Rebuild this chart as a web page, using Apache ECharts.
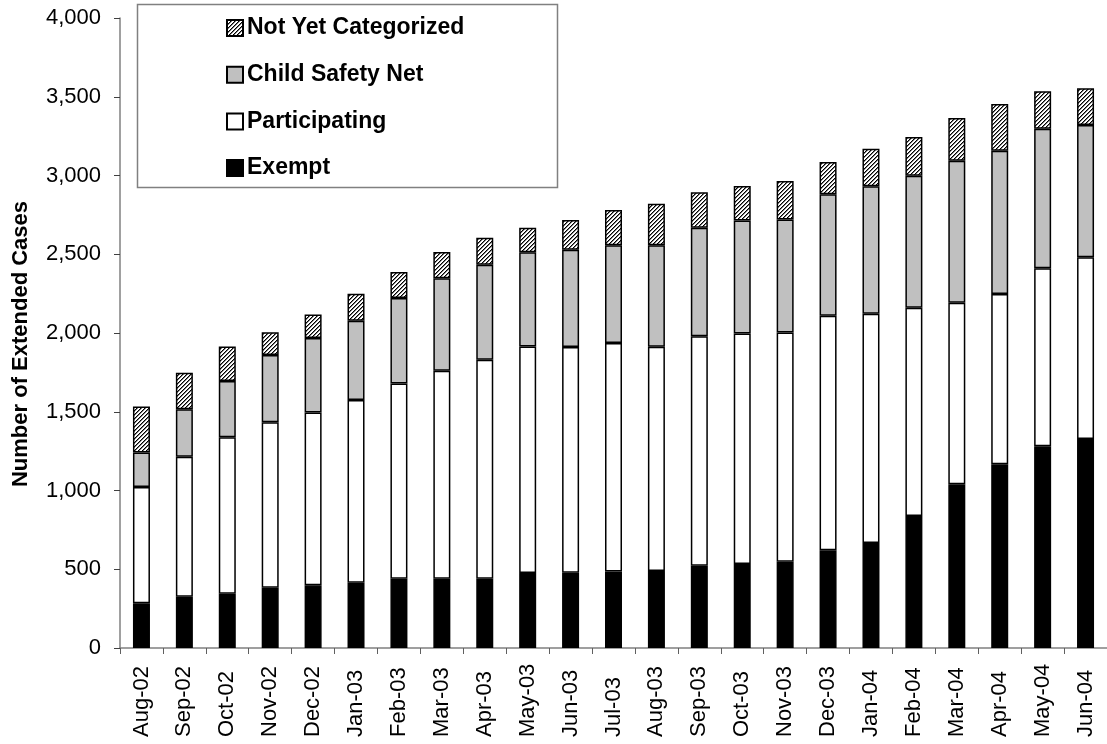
<!DOCTYPE html>
<html>
<head>
<meta charset="utf-8">
<script src="https://cdn.jsdelivr.net/npm/echarts@6/dist/echarts.min.js"></script>
<style>
html,body{margin:0;padding:0;background:#fff;}
#chart{width:1107px;height:744px;}
</style>
</head>
<body>
<div id="chart"></div>
<script>
const categories = ['Aug-02','Sep-02','Oct-02','Nov-02','Dec-02','Jan-03','Feb-03','Mar-03','Apr-03','May-03','Jun-03','Jul-03','Aug-03','Sep-03','Oct-03','Nov-03','Dec-03','Jan-04','Feb-04','Mar-04','Apr-04','May-04','Jun-04'];
const exempt = [284,326,345,383,398,415,440,439,440,476,478,485,489,523,533,547,620,667,838,1039,1166,1281,1327];
const participating = [738,889,993,1050,1098,1160,1240,1321,1390,1438,1433,1452,1424,1457,1464,1456,1490,1456,1323,1153,1082,1130,1154];
const childSafetyNet = [220,301,358,427,472,502,543,588,604,598,618,620,644,689,718,718,771,808,838,902,909,886,840];
const notYetCategorized = [292,231,218,144,150,173,164,167,171,157,188,224,264,224,218,244,205,239,245,271,297,238,233];
const seriesNames = ['Exempt','Participating','Child Safety Net','Not Yet Categorized'];
const legendOrder = ['Not Yet Categorized','Child Safety Net','Participating','Exempt'];
const yAxisTitle = 'Number of Extended Cases';

const FONT = 'Arial, "Liberation Sans", sans-serif';

// fine diagonal hatch pattern
const pc = document.createElement('canvas');
pc.width = 4; pc.height = 4;
const pctx = pc.getContext('2d');
pctx.fillStyle = '#ffffff';
pctx.fillRect(0,0,4,4);
for (let x = 0; x < 4; x++) {
  for (let y = 0; y < 4; y++) {
    const k = (x + y) % 4;
    if (k === 0) { pctx.fillStyle = '#000000'; pctx.fillRect(x, y, 1, 1); }
    else if (k === 1) { pctx.fillStyle = '#7a7a7a'; pctx.fillRect(x, y, 1, 1); }
  }
}
const hatch = { image: pc, repeat: 'repeat' };

const fills = [ '#000000', '#ffffff', '#c0c0c0', hatch ];
const dataSets = [exempt, participating, childSafetyNet, notYetCategorized];

const chart = echarts.init(document.getElementById('chart'));
chart.setOption({
  animation: false,
  backgroundColor: '#ffffff',
  textStyle: { fontFamily: FONT },
  graphic: [{
    type: 'rect',
    z: 0,
    shape: { x: 137.5, y: 4.5, width: 420, height: 183 },
    style: { fill: '#ffffff', stroke: '#808080', lineWidth: 1.5 }
  }],
  legend: {
    orient: 'vertical',
    left: 226,
    top: 16,
    padding: 0,
    itemWidth: 16,
    itemHeight: 16,
    itemGap: 22.7,
    icon: 'rect',
    data: legendOrder,
    textStyle: { fontSize: 23, fontWeight: 'bold', color: '#000', fontFamily: FONT, lineHeight: 24, padding: [0,0,0,-1] }
  },
  grid: { left: 120, top: 18, bottom: 96, right: -4, containLabel: false },
  xAxis: {
    type: 'category',
    data: categories,
    axisLine: { lineStyle: { color: '#808080', width: 1.5 } },
    axisTick: { show: true, length: 6, lineStyle: { color: '#606060' } },
    axisLabel: { rotate: 90, align: 'left', verticalAlign: 'middle', margin: 89, fontSize: 22, color: '#000', fontFamily: FONT }
  },
  yAxis: {
    type: 'value',
    min: 0, max: 4000, interval: 500,
    name: yAxisTitle,
    nameLocation: 'middle',
    nameGap: 88,
    nameTextStyle: { fontSize: 22, fontWeight: 'bold', color: '#000', fontFamily: FONT, padding: [0, 22, 0, 0] },
    axisLine: { show: true, lineStyle: { color: '#808080', width: 1.5 } },
    axisTick: { show: true, length: 6, lineStyle: { color: '#404040' } },
    splitLine: { show: false },
    axisLabel: {
      fontSize: 22, color: '#000', margin: 19, fontFamily: FONT,
      formatter: v => v.toString().replace(/\B(?=(\d{3})+(?!\d))/g, ',')
    }
  },
  series: seriesNames.map((name, i) => ({
    name: name,
    type: 'bar',
    stack: 'total',
    barWidth: 17,
    data: dataSets[i],
    itemStyle: { color: fills[i], borderColor: '#000', borderWidth: 1.5 },
    emphasis: { disabled: true }
  }))
});
</script>
</body>
</html>
